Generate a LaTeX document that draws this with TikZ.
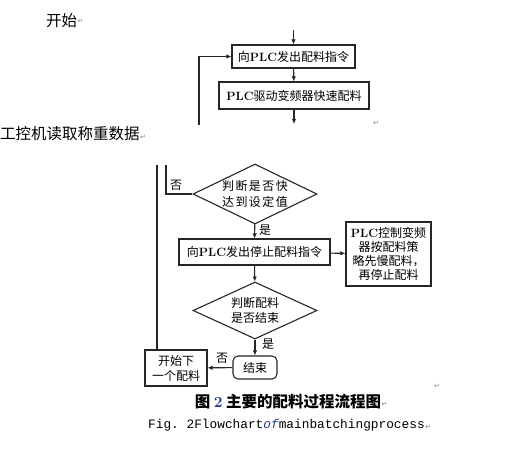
\documentclass[tikz,border=0pt]{standalone}
\usepackage{fontspec}
\usetikzlibrary{arrows.meta, shapes.geometric}
\newfontfamily\cjk{Noto Sans CJK SC}
\newfontfamily\cjkwide[LetterSpace=12]{Noto Sans CJK SC}
\newfontfamily\monof{Liberation Mono}
\newfontfamily\symf{DejaVu Sans}
\newcommand{\plc}{{\normalfont\bfseries PLC}}
\definecolor{linegray}{HTML}{262626}
\definecolor{capblue}{HTML}{1F3F8F}

\tikzset{
  flowbox/.style={draw=linegray, line width=1.1pt, inner sep=2pt, align=center,
    font=\cjk\fontsize{12}{15}\selectfont},
  decision/.style={flowbox, diamond, aspect=2, inner sep=0pt},
  flowline/.style={draw=linegray, line width=1.1pt},
  flowarrow/.style={flowline, -{Latex[length=5pt,width=4.5pt]}},
  branch/.style={font=\cjk\fontsize{12}{14}\selectfont, inner sep=0pt},
  bodytext/.style={font=\cjk\fontsize{15.5}{18}\selectfont, inner sep=0pt, anchor=west},
  paramark/.style={font=\symf\fontsize{7}{7}\selectfont, text=gray, inner sep=0pt, anchor=west}
}

\begin{document}
\begin{tikzpicture}[x=1pt, y=-1pt]
  \useasboundingbox[fill=white] (0,0) rectangle (530,448);

  % text of the page
  \node[bodytext] (kaishi) at (46,21) {开始};
  \node[paramark] at (kaishi.east) {↵};
  \node[bodytext] (gongkong) at (0,134) {工控机读取称重数据};
  \node[paramark] at ([yshift=-3pt]gongkong.east) {↵};
  \node[paramark] at (373,123) {↵};

  % upper part of the chart
  \coordinate (toparr) at (293.5,30);
  \node[flowbox, minimum width=123pt, minimum height=23pt] (send) at (293.5,56.5) {向\plc 发出配料指令};
  \node[flowbox, minimum width=150pt, minimum height=27pt] (fast) at (294,95.5) {\plc 驱动变频器快速配料};
  \coordinate (fastcut) at (294,124);
  \coordinate (loopcut) at (199,125);
  \draw[flowarrow] (toparr) -- (send);
  \draw[flowarrow] (send) -- (fast);
  \draw[flowarrow] (fast) -- (fastcut);
  \draw[flowarrow] (loopcut) |- (send.west);

  % lower part of the chart
  \coordinate (outer) at (157,165);
  \coordinate (inner) at (166,165);
  \node[decision, minimum width=124pt, minimum height=60pt,
        font=\cjkwide\fontsize{12}{16}\selectfont] (near) at (255,194) {判断是否快\\达到设定值};
  \node[flowbox, minimum width=151pt, minimum height=26pt] (stop) at (254.5,252) {向\plc 发出停止配料指令};
  \node[flowbox, minimum width=85pt, minimum height=64pt, inner sep=1pt,
        font=\cjk\fontsize{12}{14}\selectfont] (slow) at (388.5,254) {\plc 控制变频\\器按配料策\\略先慢配料，\\再停止配料};
  \node[decision, minimum width=124pt, minimum height=57pt] (done) at (255,310.5) {判断配料\\是否结束};
  \node[flowbox, rounded corners=5pt, minimum width=44pt, minimum height=23pt] (finish) at (255,367.5) {结束};
  \node[flowbox, minimum width=62pt, minimum height=36pt] (next) at (176,368) {开始下\\一个配料};

  \draw[flowline] (inner) |- (near.west);
  \node[branch] at (176,185) {否};
  \draw[flowarrow] (near) -- (stop);
  \node[branch] at (265,230) {是};
  \draw[flowarrow] (stop) -- (slow);
  \draw[flowarrow] (stop) -- (done);
  \draw[flowarrow] (done) -- (finish);
  \node[branch] at (268,344) {是};
  \draw[flowarrow] (finish) -- (next);
  \node[branch] at (222,358) {否};
  \draw[flowline] (outer) -- (outer |- next.north);
  \node[paramark] at (434,386) {↵};

  % caption
  \node[inner sep=0pt, font=\cjk\bfseries\fontsize{15.5}{18}\selectfont] (caption) at (288,402)
    {图 {\normalfont\bfseries\color{capblue}2} 主要的配料过程流程图};
  \node[paramark] at ([yshift=-2pt]caption.east) {↵};
  \node[inner sep=0pt, anchor=west, font=\monof\fontsize{12.8}{14}\selectfont] (figline) at (148,425)
    {Fig.\ 2Flowchart\textcolor{capblue}{\itshape of}mainbatchingprocess};
  \node[paramark] at ([yshift=-2pt]figline.east) {↵};
\end{tikzpicture}
\end{document}
